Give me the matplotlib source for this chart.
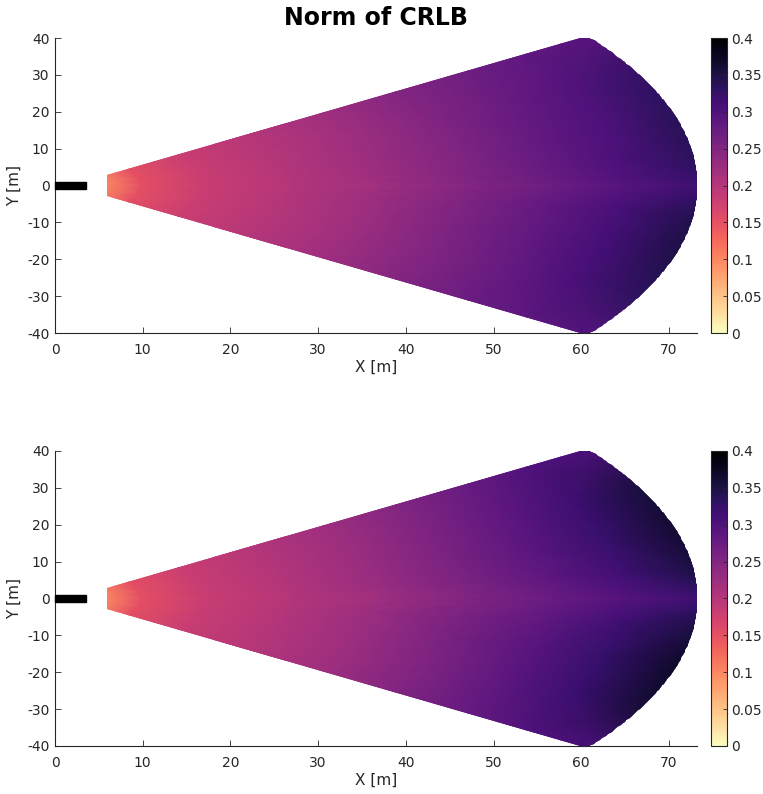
import matplotlib
matplotlib.use("Agg")
import matplotlib.pyplot as plt
from matplotlib.patches import Rectangle, Polygon
import numpy as np

plt.rcParams['font.family'] = ['DejaVu Sans']
plt.rcParams['axes.unicode_minus'] = False

# coverage sector (sensor centre at x = 1.75 m)
sensor_centre = 1.75
sector_half_angle = 34.5
sector_inner_x = 5.9
sector_outer_r = 71.5

# polar grid of the read values
ranges = [4.0, 8, 15, 25, 35, 45, 55, 63, 72.5]
angles_deg = [-34.5, -24, -14, -6, -2, 0, 2, 6, 14, 24, 34.5]

# norm of CRLB, one row per range, one column per angle
crlb_top = [
    [0.098, 0.098, 0.098, 0.098, 0.098, 0.098, 0.098, 0.098, 0.098, 0.098, 0.098],
    [0.152, 0.152, 0.152, 0.152, 0.152, 0.152, 0.152, 0.152, 0.152, 0.152, 0.152],
    [0.180, 0.180, 0.181, 0.181, 0.181, 0.181, 0.181, 0.181, 0.181, 0.180, 0.180],
    [0.200, 0.201, 0.202, 0.202, 0.201, 0.200, 0.201, 0.202, 0.202, 0.201, 0.200],
    [0.222, 0.224, 0.226, 0.225, 0.222, 0.220, 0.222, 0.224, 0.225, 0.223, 0.221],
    [0.248, 0.252, 0.255, 0.254, 0.250, 0.248, 0.250, 0.253, 0.253, 0.250, 0.247],
    [0.272, 0.280, 0.285, 0.283, 0.277, 0.273, 0.277, 0.281, 0.282, 0.277, 0.270],
    [0.287, 0.305, 0.312, 0.308, 0.300, 0.293, 0.299, 0.304, 0.303, 0.297, 0.284],
    [0.298, 0.338, 0.352, 0.345, 0.328, 0.318, 0.328, 0.337, 0.340, 0.330, 0.294],
]

crlb_bottom = [
    [0.098, 0.098, 0.098, 0.098, 0.098, 0.098, 0.098, 0.098, 0.098, 0.098, 0.098],
    [0.152, 0.152, 0.152, 0.152, 0.152, 0.152, 0.152, 0.152, 0.152, 0.152, 0.152],
    [0.180, 0.181, 0.182, 0.181, 0.181, 0.181, 0.181, 0.181, 0.182, 0.181, 0.180],
    [0.200, 0.202, 0.204, 0.203, 0.201, 0.200, 0.201, 0.203, 0.204, 0.202, 0.200],
    [0.222, 0.226, 0.229, 0.227, 0.223, 0.221, 0.223, 0.227, 0.229, 0.226, 0.222],
    [0.250, 0.256, 0.261, 0.258, 0.252, 0.250, 0.252, 0.257, 0.260, 0.255, 0.249],
    [0.279, 0.290, 0.295, 0.287, 0.279, 0.275, 0.279, 0.286, 0.293, 0.288, 0.278],
    [0.300, 0.320, 0.326, 0.316, 0.302, 0.295, 0.302, 0.314, 0.323, 0.318, 0.299],
    [0.308, 0.365, 0.372, 0.352, 0.330, 0.316, 0.330, 0.352, 0.366, 0.360, 0.306],
]

sensor_length = 3.5
sensor_width = 1.8

cbar_ticks = [0, 0.05, 0.1, 0.15, 0.2, 0.25, 0.3, 0.35, 0.4]
cbar_labels = ["0", "0.05", "0.1", "0.15", "0.2", "0.25", "0.3", "0.35", "0.4"]
x_ticks = [0, 10, 20, 30, 40, 50, 60, 70]
y_ticks = [-40, -30, -20, -10, 0, 10, 20, 30, 40]

axis_col = '#262626'

fig = plt.figure(figsize=(7.63, 7.94), dpi=100)

rr, aa = np.meshgrid(ranges, np.radians(angles_deg), indexing='ij')
X = sensor_centre + rr * np.cos(aa)
Y = rr * np.sin(aa)

# near the sensor the thin centre columns give sub-pixel triangles, so the
# first rows are drawn with every other angle only
split = 3
near_cols = [0, 2, 5, 8, 10]

# outline of the sector: straight cut near the sensor, straight sides, outer arc
half = np.radians(sector_half_angle)
r_cut = (sector_inner_x - sensor_centre) / np.cos(half)
arc = np.linspace(half, -half, 200)
outline = [(sector_inner_x, -r_cut * np.sin(half)), (sector_inner_x, r_cut * np.sin(half))]
outline += [(sensor_centre + sector_outer_r * np.cos(t), sector_outer_r * np.sin(t)) for t in arc]

panels = [
    (crlb_top, [0.0721, 0.5806, 0.8415, 0.3715], [0.9319, 0.5806, 0.0210, 0.3715]),
    (crlb_bottom, [0.0721, 0.0605, 0.8415, 0.3715], [0.9319, 0.0605, 0.0210, 0.3715]),
]

for vals, ax_pos, cb_pos in panels:
    ax = fig.add_axes(ax_pos)
    C = np.array(vals)
    parts = [
        (X[:split + 1][:, near_cols], Y[:split + 1][:, near_cols], C[:split + 1][:, near_cols]),
        (X[split:], Y[split:], C[split:]),
    ]
    for px, py, pc in parts:
        under = ax.pcolormesh(px, py, pc, shading='nearest', cmap='magma_r',
                              vmin=0, vmax=0.4, antialiased=False)
        under.set_clip_path(Polygon(outline, closed=True, transform=ax.transData))
    for px, py, pc in parts:
        mesh = ax.pcolormesh(px, py, pc, shading='gouraud',
                             cmap='magma_r', vmin=0, vmax=0.4)
        mesh.set_clip_path(Polygon(outline, closed=True, transform=ax.transData))
    ax.add_patch(Rectangle((0, -sensor_width / 2), sensor_length, sensor_width,
                           color='black', zorder=3, clip_on=False))
    ax.set_xlim(0, 73.2)
    ax.set_ylim(-40, 40)
    ax.set_xticks(x_ticks)
    ax.set_yticks(y_ticks)
    for s in ['top', 'right']:
        ax.spines[s].set_visible(False)
    for s in ['left', 'bottom']:
        ax.spines[s].set_color(axis_col)
        ax.spines[s].set_linewidth(0.8)
    ax.tick_params(direction='in', length=4, width=0.6, colors=axis_col,
                   labelsize=10)
    ax.tick_params(axis='x', pad=7)
    ax.tick_params(axis='y', pad=4)
    ax.set_xlabel('X [m]', fontsize=11, color=axis_col, labelpad=2)
    ax.set_ylabel('Y [m]', fontsize=11, color=axis_col, labelpad=4)

    cax = fig.add_axes(cb_pos)
    cb = fig.colorbar(mesh, cax=cax, ticks=cbar_ticks)
    cb.ax.set_yticklabels(cbar_labels)
    cb.outline.set_edgecolor(axis_col)
    cb.outline.set_linewidth(0.8)
    cax.tick_params(direction='in', length=3, width=0.6, colors=axis_col,
                    labelsize=10, pad=3)

fig.text(0.493, 0.977, 'Norm of CRLB', ha='center', va='center',
         fontsize=17, fontweight='bold')

fig.savefig('out.png', dpi=100)
